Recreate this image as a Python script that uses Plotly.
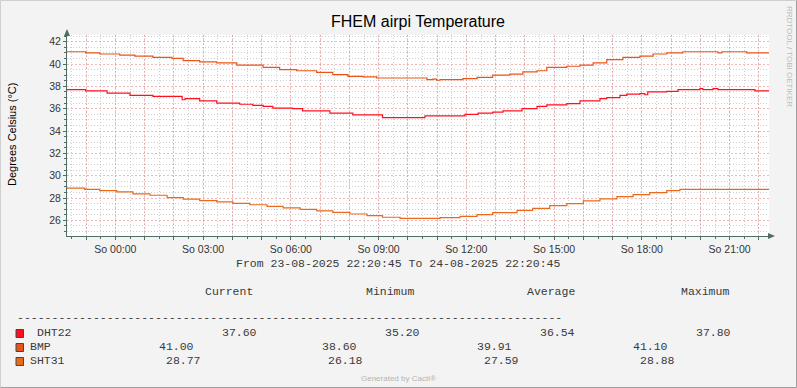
import plotly.graph_objects as go

# ---------------- data ----------------
D1 = "2025-08-23 "
D2 = "2025-08-24 "

T_DHT22 = [D1 + "22:20:45", D1 + "22:59", D1 + "23:43", D2 + "00:30", D2 + "01:17", D2 + "02:17",
           D2 + "02:23", D2 + "02:53", D2 + "03:28", D2 + "04:15", D2 + "04:42", D2 + "05:03",
           D2 + "05:23", D2 + "06:04", D2 + "06:24", D2 + "07:20", D2 + "08:07", D2 + "09:08",
           D2 + "10:35", D2 + "11:57", D2 + "12:24", D2 + "12:54", D2 + "13:15", D2 + "13:54",
           D2 + "14:25", D2 + "14:45", D2 + "15:26", D2 + "15:53", D2 + "16:34", D2 + "16:48",
           D2 + "17:15", D2 + "17:29", D2 + "17:56", D2 + "18:06", D2 + "18:12", D2 + "18:51",
           D2 + "19:14", D2 + "19:59", D2 + "20:05", D2 + "20:26", D2 + "20:36", D2 + "21:52",
           D2 + "22:20:45"]
V_DHT22 = [37.7, 37.6, 37.4, 37.2, 37.1, 36.8, 36.9, 36.7, 36.5, 36.4, 36.3, 36.2,
           36.05, 36.0, 35.8, 35.6, 35.45, 35.2, 35.35, 35.5, 35.6, 35.7, 35.8, 36.0,
           36.2, 36.35, 36.45, 36.7, 36.9, 37.0, 37.2, 37.3, 37.35, 37.25, 37.5, 37.55,
           37.7, 37.8, 37.7, 37.8, 37.7, 37.6, 37.6]

T_BMP = [D1 + "22:20:45", D1 + "22:59", D1 + "23:28", D2 + "00:09", D2 + "00:40", D2 + "01:17",
         D2 + "01:56", D2 + "02:19", D2 + "02:53", D2 + "03:28", D2 + "04:09", D2 + "05:03",
         D2 + "05:37", D2 + "06:12", D2 + "06:53", D2 + "07:26", D2 + "07:57", D2 + "08:28",
         D2 + "08:56", D2 + "10:39", D2 + "10:51", D2 + "10:59", D2 + "11:06", D2 + "11:53",
         D2 + "12:22", D2 + "12:54", D2 + "13:29", D2 + "13:56", D2 + "14:25", D2 + "14:45",
         D2 + "15:26", D2 + "15:53", D2 + "16:20", D2 + "16:48", D2 + "17:21", D2 + "17:56",
         D2 + "18:23", D2 + "18:51", D2 + "19:24", D2 + "20:36", D2 + "20:44", D2 + "21:35",
         D2 + "22:20:45"]
V_BMP = [41.1, 41.0, 40.9, 40.8, 40.7, 40.6, 40.5, 40.3, 40.2, 40.1, 39.9, 39.7,
         39.5, 39.4, 39.25, 39.05, 38.9, 38.85, 38.75, 38.6, 38.65, 38.55, 38.6, 38.7,
         38.8, 39.0, 39.1, 39.3, 39.4, 39.7, 39.8, 39.9, 40.1, 40.4, 40.6, 40.7,
         40.9, 41.0, 41.1, 41.0, 41.1, 41.0, 41.0]

T_SHT31 = [D1 + "22:20:45", D1 + "22:57", D1 + "23:28", D2 + "00:03", D2 + "00:36", D2 + "01:11",
           D2 + "01:46", D2 + "02:19", D2 + "02:53", D2 + "03:28", D2 + "04:01", D2 + "04:36",
           D2 + "05:11", D2 + "05:44", D2 + "06:19", D2 + "06:53", D2 + "07:26", D2 + "08:01",
           D2 + "08:36", D2 + "09:08", D2 + "09:44", D2 + "11:06", D2 + "11:47", D2 + "12:22",
           D2 + "12:54", D2 + "13:44", D2 + "14:16", D2 + "14:51", D2 + "15:26", D2 + "16:00",
           D2 + "16:34", D2 + "17:09", D2 + "17:42", D2 + "18:16", D2 + "18:51", D2 + "19:18",
           D2 + "22:20:45"]
V_SHT31 = [28.88, 28.77, 28.67, 28.55, 28.37, 28.25, 28.04, 27.9, 27.77, 27.65, 27.53, 27.4,
           27.26, 27.12, 26.99, 26.85, 26.72, 26.57, 26.42, 26.28, 26.18, 26.24, 26.36, 26.51,
           26.69, 26.9, 27.08, 27.32, 27.5, 27.74, 27.92, 28.13, 28.31, 28.49, 28.67, 28.77,
           28.77]

SERIES = ["DHT22", "BMP", "SHT31"]
COLORS = ["#FF1020", "#EA5418", "#EA6A1C"]
STATS_HEAD = ["Current", "Minimum", "Average", "Maximum"]
STATS = {
    "DHT22": ["37.60", "35.20", "36.54", "37.80"],
    "BMP": ["41.00", "38.60", "39.91", "41.10"],
    "SHT31": ["28.77", "26.18", "27.59", "28.88"],
}

X_START = D1 + "22:20:45"
X_END = D2 + "22:20:45"
HOUR_TICKS = [D1 + "23:00"] + [D2 + "%02d:00" % h for h in range(0, 23)]
HOUR_TEXT = [""] + [("So %02d:00" % h) if h % 3 == 0 else "" for h in range(0, 23)]
Y_RANGE = [24.6, 42.6]

# ---------------- layout helpers ----------------
W, H = 797, 388
L, R, T, B = 67, 769, 35, 236
PW, PH = R - L, B - T


def px(x):
    return (x - L) / PW


def py(y):
    return (B - y) / PH


SANS = "Liberation Sans, Arial, sans-serif"
MONO = "Liberation Mono, Courier New, monospace"
TXT = "#3A3A3A"
MONO_SIZE = 11.5

fig = go.Figure()
fig.add_trace(go.Scatter(x=T_DHT22, y=V_DHT22, mode="lines", line=dict(color=COLORS[0], width=1.2, shape="hv"), name="DHT22"))
fig.add_trace(go.Scatter(x=T_BMP, y=V_BMP, mode="lines", line=dict(color=COLORS[1], width=1.2, shape="hv"), name="BMP"))
fig.add_trace(go.Scatter(x=T_SHT31, y=V_SHT31, mode="lines", line=dict(color=COLORS[2], width=1.2, shape="hv"), name="SHT31"))

MINOR_GRID = "rgba(175,175,175,0.6)"
MAJOR_GRID = "rgba(235,130,130,0.55)"
AXIS = "#4E6D64"

fig.update_layout(
    width=W, height=H,
    margin=dict(l=L, r=W - R, t=T, b=H - B),
    paper_bgcolor="#F3F3F3", plot_bgcolor="#FFFFFF",
    showlegend=False,
    title=dict(text="FHEM airpi Temperature", x=0.5, xref="paper", xanchor="center",
               y=1 - 21 / H, yref="container", yanchor="middle",
               font=dict(family=SANS, size=16, color="#000000")),
    xaxis=dict(
        type="date", range=[X_START, X_END],
        tickmode="array", tickvals=HOUR_TICKS, ticktext=HOUR_TEXT,
        showgrid=True, gridcolor=MAJOR_GRID, griddash="2px,2px", gridwidth=1,
        ticks="outside", ticklen=3, tickcolor=AXIS,
        showline=True, linecolor=AXIS, linewidth=1,
        tickfont=dict(family=SANS, size=10.5, color="#333333"),
        minor=dict(tickmode="linear", tick0=D1 + "22:30", dtick=1800000,
                   showgrid=True, gridcolor=MINOR_GRID, griddash="1px,2px", gridwidth=1,
                   ticks="outside", ticklen=2, tickcolor=AXIS),
        zeroline=False, fixedrange=True,
    ),
    yaxis=dict(
        range=Y_RANGE, tickmode="linear", tick0=0, dtick=2,
        showgrid=True, gridcolor=MAJOR_GRID, griddash="2px,2px", gridwidth=1,
        ticks="outside", ticklen=3, tickcolor=AXIS,
        showline=True, linecolor=AXIS, linewidth=1,
        tickfont=dict(family=SANS, size=10.5, color="#333333"),
        minor=dict(tickmode="linear", tick0=0, dtick=0.5,
                   showgrid=True, gridcolor=MINOR_GRID, griddash="1px,2px", gridwidth=1,
                   ticks="outside", ticklen=2, tickcolor=AXIS),
        zeroline=False, fixedrange=True,
    ),
)

shapes = []
# outer frame
shapes.append(dict(type="line", xref="paper", yref="paper", x0=px(0.5), x1=px(W - 0.5), y0=py(0.5), y1=py(0.5), line=dict(color="#CFCFCF", width=1)))
shapes.append(dict(type="line", xref="paper", yref="paper", x0=px(0.5), x1=px(0.5), y0=py(0.5), y1=py(H - 0.5), line=dict(color="#CFCFCF", width=1)))
shapes.append(dict(type="line", xref="paper", yref="paper", x0=px(W - 0.5), x1=px(W - 0.5), y0=py(0.5), y1=py(H - 0.5), line=dict(color="#9E9E9E", width=1)))
shapes.append(dict(type="line", xref="paper", yref="paper", x0=px(0.5), x1=px(W - 0.5), y0=py(H - 0.5), y1=py(H - 0.5), line=dict(color="#9E9E9E", width=1)))
# axis arrows
shapes.append(dict(type="path", xref="paper", yref="paper",
                   path="M %f,%f L %f,%f L %f,%f Z" % (px(L - 3), py(T + 1), px(L + 3), py(T + 1), px(L), py(T - 6)),
                   fillcolor=AXIS, line=dict(color=AXIS, width=0)))
shapes.append(dict(type="path", xref="paper", yref="paper",
                   path="M %f,%f L %f,%f L %f,%f Z" % (px(R - 1), py(B - 3), px(R - 1), py(B + 3), px(R + 6), py(B)),
                   fillcolor=AXIS, line=dict(color=AXIS, width=0)))

annotations = []


def text(x, y, s, size=MONO_SIZE, family=MONO, color=TXT, xanchor="left", angle=0):
    annotations.append(dict(x=px(x), y=py(y), xref="paper", yref="paper", text=s, showarrow=False,
                            xanchor=xanchor, yanchor="middle", textangle=angle,
                            borderpad=0, borderwidth=0,
                            font=dict(family=family, size=size, color=color)))


# y-axis title
text(12, 135, "Degrees Celsius (°C)", size=11, family=SANS, color="#000000", xanchor="center", angle=-90)
# watermark
text(789, 56, "RRDTOOL / TOBI OETIKER", size=8, family=SANS, color="#BBBBBB", xanchor="center", angle=90)
# period
text(398, 263, "From 23-08-2025 22:20:45 To 24-08-2025 22:20:45", xanchor="center")
# header
head_x = [205, 366, 527, 681]
for hx, s in zip(head_x, STATS_HEAD):
    text(hx, 291, s)
text(17, 317, "-" * 79)

rows_y = [332.5, 346.5, 360.5]
name_x = [37, 30, 30]
stat_x = {
    "DHT22": [222, 385, 540, 696],
    "BMP": [159, 322, 477, 633],
    "SHT31": [166, 328, 484, 640],
}
sq_top = [329.5, 343.5, 357.5]
for i, name in enumerate(SERIES):
    shapes.append(dict(type="rect", xref="paper", yref="paper",
                       x0=px(16), x1=px(23.5), y0=py(sq_top[i]), y1=py(sq_top[i] + 8),
                       fillcolor=COLORS[i], line=dict(color="#2F4F4F", width=1)))
    text(name_x[i], rows_y[i], name)
    for sx, v in zip(stat_x[name], STATS[name]):
        text(sx, rows_y[i], v)

text(398, 378, "Generated by Cacti®", size=8, family=SANS, color="#B4B4B4", xanchor="center")

fig.update_layout(shapes=shapes, annotations=annotations)
fig.write_html("out.html", config={"displayModeBar": False},
               post_script="document.body.style.margin='0';document.body.style.padding='0';")
